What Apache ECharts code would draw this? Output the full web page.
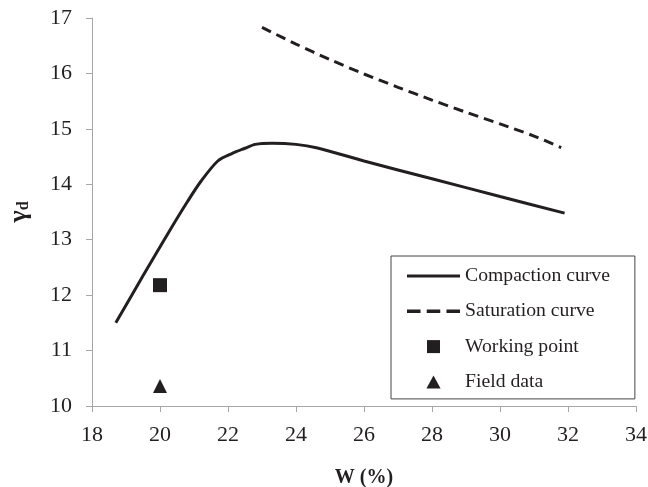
<!DOCTYPE html>
<html>
<head>
<meta charset="utf-8">
<script src="https://cdn.jsdelivr.net/npm/echarts@6/dist/echarts.min.js"></script>
<style>
  html, body { margin: 0; padding: 0; background: #fff; }
  #chart { width: 648px; height: 487px; }
</style>
</head>
<body>
<div id="chart"></div>
<script>
// compaction curve (W %, gamma_d)
var compactionW = [18.7, 19.5, 20.3, 20.8, 21.2, 21.7, 22.1, 22.5, 22.8, 23.3, 24.0, 24.6, 26.0, 28.0, 30.0, 31.9];
var compactionG = [11.5, 12.35, 13.18, 13.68, 14.05, 14.42, 14.55, 14.65, 14.72, 14.74, 14.72, 14.66, 14.42, 14.1, 13.78, 13.48];

// saturation curve
var saturationW = [23.0, 24.0, 25.0, 26.0, 27.0, 28.0, 29.0, 30.0, 31.0, 31.8];
var saturationG = [16.83, 16.53, 16.25, 15.99, 15.75, 15.52, 15.3, 15.09, 14.87, 14.66];

var workingPoint = [[20, 12.18]];
var fieldData = [[20, 10.36]];

var seriesNames = ['Compaction curve', 'Saturation curve', 'Working point', 'Field data'];

function pairs(xs, ys) {
    var out = [];
    for (var i = 0; i < xs.length; i++) {
        out.push([xs[i], ys[i]]);
    }
    return out;
}

var serif = '"Liberation Serif", "Times New Roman", serif';
var ink = '#231f20';
var axisGray = '#a6a6a6';

// legend icons (keep aspect inside the 53 x 13 icon box)
var iconSolid = 'path://M0,0h53v3h-53z';
var iconDashed = 'path://M0,0h12v3h-12z M17.5,0h12v3h-12z M35,0h12v3h-12z';
var iconSquare = 'path://M0,0h12v12h-12z';
var iconTriangle = 'path://M6,0L12,11L0,11z';

var myChart = echarts.init(document.getElementById('chart'));
myChart.setOption({
    animation: false,
    grid: {
        left: 92,
        right: 12,
        top: 18,
        bottom: 81,
        containLabel: false,
        outerBoundsMode: 'none'
    },
    legend: {
        orient: 'vertical',
        left: 391,
        top: 256,
        data: [
            { name: seriesNames[0], icon: iconSolid },
            { name: seriesNames[1], icon: iconDashed },
            { name: seriesNames[2], icon: iconSquare },
            { name: seriesNames[3], icon: iconTriangle }
        ],
        symbolKeepAspect: true,
        itemWidth: 53,
        itemHeight: 13,
        itemGap: 15.3,
        padding: [10, 25, 7, 16],
        borderColor: '#444',
        borderWidth: 1,
        itemStyle: { opacity: 1 },
        textStyle: {
            fontFamily: serif,
            fontSize: 19.7,
            lineHeight: 20,
            color: ink
        }
    },
    xAxis: {
        type: 'value',
        min: 18,
        max: 34,
        interval: 2,
        name: 'W (%)',
        nameLocation: 'middle',
        nameGap: 62,
        nameTextStyle: {
            fontFamily: serif,
            fontSize: 20,
            fontWeight: 'bold',
            color: ink
        },
        axisLine: { lineStyle: { color: axisGray, width: 1 } },
        axisTick: { show: true, inside: false, length: 6, lineStyle: { color: axisGray } },
        splitLine: { show: false },
        axisLabel: {
            margin: 18,
            fontFamily: serif,
            fontSize: 22,
            color: ink
        }
    },
    yAxis: {
        type: 'value',
        min: 10,
        max: 17,
        interval: 1,
        name: '{g|γ}{d|d}',
        nameLocation: 'middle',
        nameRotate: 90,
        nameGap: 60,
        nameTextStyle: {
            rich: {
                g: { fontFamily: serif, fontSize: 26, fontWeight: 'bold', color: ink },
                d: { fontFamily: serif, fontSize: 16, fontWeight: 'bold', color: ink, verticalAlign: 'bottom', padding: [8, 0, 0, 0] }
            }
        },
        axisLine: { show: true, lineStyle: { color: axisGray, width: 1 } },
        axisTick: { show: true, inside: false, length: 6, lineStyle: { color: axisGray } },
        splitLine: { show: false },
        axisLabel: {
            margin: 20,
            fontFamily: serif,
            fontSize: 22,
            color: ink
        }
    },
    series: [
        {
            name: seriesNames[0],
            type: 'line',
            data: pairs(compactionW, compactionG),
            symbol: 'none',
            smooth: 0.3,
            lineStyle: { color: ink, width: 3 },
            itemStyle: { color: ink }
        },
        {
            name: seriesNames[1],
            type: 'line',
            data: pairs(saturationW, saturationG),
            symbol: 'none',
            smooth: 0.3,
            lineStyle: { color: ink, width: 3, type: [10, 6] },
            itemStyle: { color: ink }
        },
        {
            name: seriesNames[2],
            type: 'scatter',
            data: workingPoint,
            symbol: 'rect',
            symbolSize: 14,
            itemStyle: { color: ink, opacity: 1 }
        },
        {
            name: seriesNames[3],
            type: 'scatter',
            data: fieldData,
            symbol: 'triangle',
            symbolSize: 14,
            itemStyle: { color: ink, opacity: 1 }
        }
    ]
});
</script>
</body>
</html>
